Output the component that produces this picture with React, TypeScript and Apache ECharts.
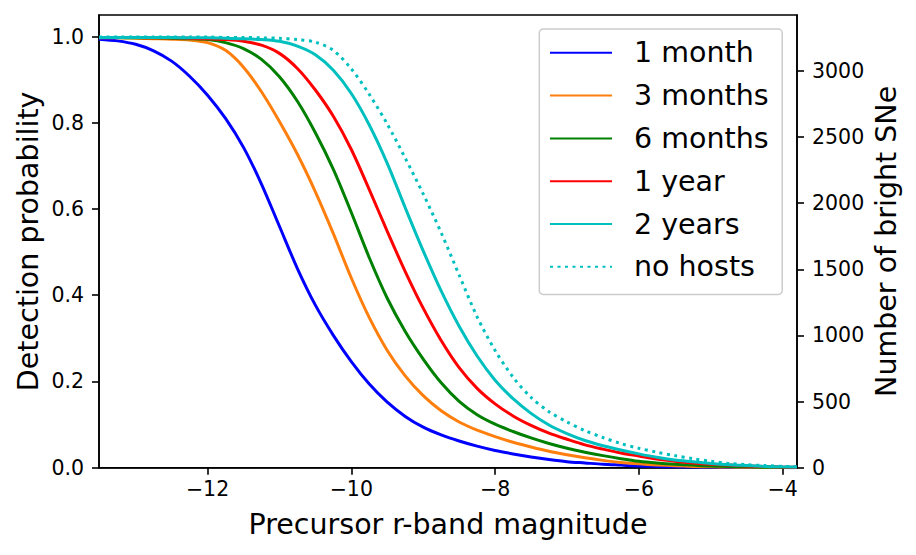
import React, { useEffect, useRef } from "react";
import * as echarts from "echarts";

// Precursor r-band absolute magnitude grid (shared by all curves)
const magnitudes = [
  -13.51, -13.25, -13.0, -12.75, -12.5, -12.25, -12.0, -11.75, -11.5, -11.25,
  -11.0, -10.75, -10.5, -10.25, -10.0, -9.75, -9.5, -9.25, -9.0, -8.75, -8.5,
  -8.25, -8.0, -7.75, -7.5, -7.25, -7.0, -6.75, -6.5, -6.25, -6.0, -5.75, -5.5,
  -5.25, -5.0, -4.75, -4.5, -4.25, -4.0, -3.8,
];

// Detection probability for each survey baseline
const oneMonth = [
  0.994, 0.99, 0.982, 0.967, 0.943, 0.908, 0.864, 0.81, 0.743, 0.658, 0.56,
  0.462, 0.377, 0.307, 0.246, 0.194, 0.152, 0.119, 0.094, 0.076, 0.062, 0.05,
  0.04, 0.032, 0.025, 0.019, 0.014, 0.011, 0.008, 0.006, 0.004, 0.003, 0.002,
  0.0015, 0.001, 0.0007, 0.0005, 0.0003, 0.0002, 0.0001,
];
const threeMonths = [
  0.997, 0.997, 0.996, 0.995, 0.994, 0.992, 0.986, 0.968, 0.929, 0.872, 0.803,
  0.727, 0.64, 0.543, 0.44, 0.348, 0.272, 0.213, 0.167, 0.132, 0.106, 0.087,
  0.072, 0.059, 0.048, 0.038, 0.03, 0.023, 0.017, 0.012, 0.009, 0.0065, 0.0045,
  0.003, 0.002, 0.0014, 0.001, 0.0006, 0.0004, 0.0002,
];
const sixMonths = [
  0.998, 0.998, 0.997, 0.997, 0.996, 0.995, 0.993, 0.986, 0.972, 0.947, 0.907,
  0.85, 0.777, 0.692, 0.592, 0.487, 0.393, 0.316, 0.252, 0.197, 0.154, 0.123,
  0.101, 0.084, 0.069, 0.056, 0.045, 0.036, 0.028, 0.021, 0.015, 0.011, 0.008,
  0.006, 0.004, 0.003, 0.002, 0.0012, 0.0007, 0.0004,
];
const oneYear = [
  0.998, 0.998, 0.998, 0.997, 0.997, 0.996, 0.995, 0.993, 0.989, 0.98, 0.961,
  0.926, 0.876, 0.815, 0.738, 0.645, 0.548, 0.455, 0.37, 0.295, 0.232, 0.184,
  0.148, 0.12, 0.098, 0.08, 0.066, 0.053, 0.043, 0.034, 0.027, 0.02, 0.015,
  0.011, 0.008, 0.006, 0.004, 0.0025, 0.0015, 0.001,
];
const twoYears = [
  0.998, 0.998, 0.998, 0.998, 0.998, 0.997, 0.997, 0.996, 0.995, 0.993, 0.989,
  0.978, 0.958, 0.922, 0.868, 0.795, 0.706, 0.603, 0.503, 0.41, 0.328, 0.259,
  0.203, 0.16, 0.126, 0.099, 0.079, 0.063, 0.051, 0.041, 0.032, 0.024, 0.018,
  0.014, 0.01, 0.007, 0.005, 0.003, 0.002, 0.0015,
];
const noHosts = [
  0.999, 0.999, 0.999, 0.999, 0.999, 0.999, 0.999, 0.998, 0.998, 0.997, 0.996,
  0.993, 0.987, 0.968, 0.925, 0.866, 0.797, 0.718, 0.635, 0.545, 0.447, 0.35,
  0.272, 0.21, 0.163, 0.13, 0.106, 0.086, 0.07, 0.056, 0.045, 0.036, 0.028,
  0.021, 0.015, 0.01, 0.007, 0.005, 0.003, 0.002,
];

const seriesNames = ["1 month", "3 months", "6 months", "1 year", "2 years", "no hosts"];
const seriesValues = [oneMonth, threeMonths, sixMonths, oneYear, twoYears, noHosts];

// Tick positions
const xTicks = [-12, -10, -8, -6, -4];
const probTicks = [0, 0.2, 0.4, 0.6, 0.8, 1.0];
const countTicks = [0, 500, 1000, 1500, 2000, 2500, 3000];

// Axis extents
const xMin = -13.51;
const xMax = -3.8;
const probMax = 1.05;
const countMax = 3423;

const palette = ["#0000ff", "#ff7f0e", "#008000", "#ff0000", "#00bfbf", "#00bfbf"];
const dottedFlags = [false, false, false, false, false, true];

const FONT = "DejaVu Sans";
const TICK_FONT = 20.5;
const LABEL_FONT = 28.5;

export default function App() {
  const ref = useRef<HTMLDivElement>(null);

  useEffect(() => {
    if (!ref.current) return;
    const chart = echarts.init(ref.current, undefined, { renderer: "svg" });

    const axisLine = { show: true, lineStyle: { color: "#000", width: 1.6 } };
    const axisTick = (vals: number[]) => ({
      show: true,
      length: 7,
      lineStyle: { color: "#000", width: 1.6 },
      customValues: vals,
    });

    const series = seriesNames.map((name, i) => ({
      type: "line",
      name,
      yAxisIndex: 0,
      data: magnitudes.map((m, j) => [m, seriesValues[i][j]]),
      symbol: "none",
      showSymbol: false,
      smooth: 0.3,
      clip: true,
      silent: true,
      color: palette[i],
      lineStyle: {
        color: palette[i],
        width: 3,
        type: dottedFlags[i] ? [3, 4.5] : "solid",
        cap: "butt",
      },
      emphasis: { disabled: true },
    }));

    chart.setOption({
      animation: false,
      backgroundColor: "#ffffff",
      grid: {
        left: 99,
        right: 119,
        top: 15,
        bottom: 87.3,
        show: true,
        borderColor: "#000",
        borderWidth: 1.6,
        backgroundColor: "transparent",
      },
      xAxis: {
        type: "value",
        min: xMin,
        max: xMax,
        axisLine: { ...axisLine, onZero: false },
        axisTick: axisTick(xTicks),
        splitLine: { show: false },
        axisLabel: {
          customValues: xTicks,
          formatter: (v: number) => (v < 0 ? "\u2212" + Math.abs(v) : String(v)),
          color: "#000",
          fontSize: TICK_FONT,
          fontFamily: FONT,
          margin: 11,
        },
        name: "Precursor r-band magnitude",
        nameLocation: "middle",
        nameGap: 42,
        nameTextStyle: { fontSize: LABEL_FONT, fontFamily: FONT, color: "#000" },
      },
      yAxis: [
        {
          type: "value",
          position: "left",
          min: 0,
          max: probMax,
          axisLine,
          axisTick: axisTick(probTicks),
          splitLine: { show: false },
          axisLabel: {
            customValues: probTicks,
            formatter: (v: number) => v.toFixed(1),
            color: "#000",
            fontSize: TICK_FONT,
            fontFamily: FONT,
            margin: 15,
          },
          name: "Detection probability",
          nameLocation: "middle",
          nameRotate: 90,
          nameMoveOverlap: false,
          nameGap: 56,
          nameTextStyle: { fontSize: LABEL_FONT, fontFamily: FONT, color: "#000" },
        },
        {
          type: "value",
          position: "right",
          min: 0,
          max: countMax,
          axisLine,
          axisTick: axisTick(countTicks),
          splitLine: { show: false },
          axisLabel: {
            customValues: countTicks,
            formatter: (v: number) => String(v),
            color: "#000",
            fontSize: TICK_FONT,
            fontFamily: FONT,
            margin: 15,
          },
          name: "Number of bright SNe",
          nameLocation: "middle",
          nameRotate: 90,
          nameMoveOverlap: false,
          nameGap: 75,
          nameTextStyle: { fontSize: LABEL_FONT, fontFamily: FONT, color: "#000" },
        },
      ],
      legend: {
        orient: "vertical",
        left: 539.3,
        top: 29,
        itemWidth: 62,
        itemHeight: 14,
        itemGap: 13.8,
        padding: [9.3, 13.7, 13.2, 9.7],
        backgroundColor: "rgba(255,255,255,0.85)",
        borderColor: "#cccccc",
        borderWidth: 1.5,
        borderRadius: 4,
        selectedMode: false,
        itemStyle: { opacity: 0 },
        textStyle: {
          fontSize: LABEL_FONT,
          fontFamily: FONT,
          color: "#000",
          lineHeight: 28,
          padding: [0, 0, 0, 17],
        },
        data: seriesNames,
      },
      series,
    });

    return () => chart.dispose();
  }, []);

  return (
    <div
      ref={ref}
      style={{
        position: "fixed",
        left: 0,
        top: 0,
        width: 916,
        height: 555,
        background: "#fff",
      }}
    />
  );
}
